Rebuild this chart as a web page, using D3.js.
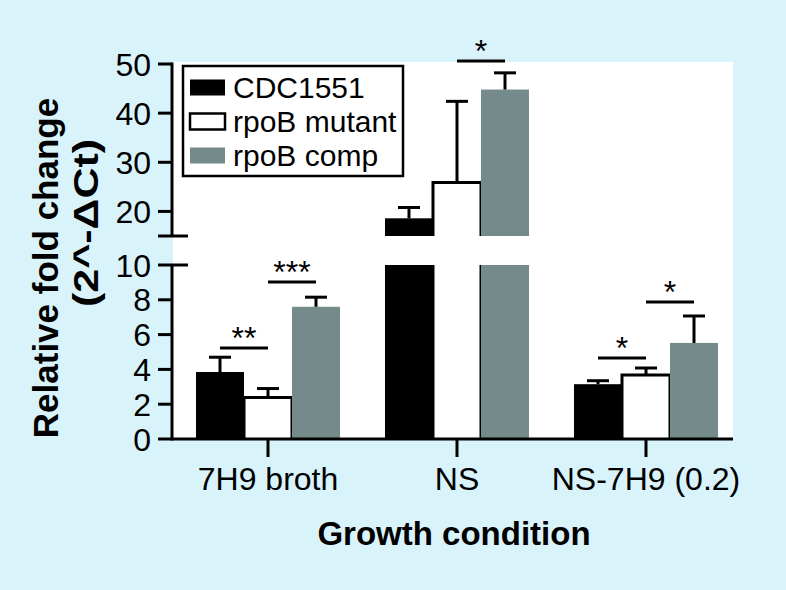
<!DOCTYPE html>
<html><head><meta charset="utf-8">
<script src="https://cdn.jsdelivr.net/npm/d3@7"></script>
<style>html,body{margin:0;padding:0;background:#d9f3fb;}svg{display:block;}</style>
</head><body>
<svg id="chart" width="786" height="590"></svg>
<script>
const categories = ["7H9 broth", "NS", "NS-7H9 (0.2)"];
const seriesNames = ["CDC1551", "rpoB mutant", "rpoB comp"];
const cdc1551 = [3.85, 18.6, 3.15];
const rpoBMutant = [2.38, 25.9, 3.68];
const rpoBComp = [7.6, 44.8, 5.52];
const cdc1551Err = [0.85, 2.2, 0.2];
const rpoBMutantErr = [0.52, 16.5, 0.4];
const rpoBCompErr = [0.55, 3.4, 1.55];
const lowTicks = [0, 2, 4, 6, 8, 10];
const highTicks = [20, 30, 40, 50];
const sigLabels = ["**", "***", "*", "*", "*"];
const sigGroup = [0, 0, 1, 2, 2];
const sigFrom = [0, 1, 1, 0, 1];
const sigTo = [1, 2, 2, 1, 2];
const sigLevel = [5.23, 9.02, 50.6, 4.66, 7.87];

const values = [cdc1551, rpoBMutant, rpoBComp];
const errs = [cdc1551Err, rpoBMutantErr, rpoBCompErr];
const colors = ["#000000", "#ffffff", "#758a8a"];

const svg = d3.select("#chart");
const font = "'Liberation Sans', Arial, Helvetica, sans-serif";

// plot panel
const panel = {x0: 173, x1: 733, y0: 62, y1: 439};
svg.append("rect").attr("x", panel.x0).attr("y", panel.y0)
  .attr("width", panel.x1 - panel.x0).attr("height", panel.y1 - panel.y0).attr("fill", "#fff");

const x = d3.scaleBand().domain(categories).range([173.5, 740.5]).paddingInner(0.238).paddingOuter(0.119);
const xs = d3.scaleBand().domain(seriesNames).range([0, x.bandwidth()]);
const yLow = d3.scaleLinear().domain([0, 10]).range([439, 265]);
const yHigh = d3.scaleLinear().domain([15, 50]).range([236, 64]);
const Y = v => v <= 12 ? yLow(v) : yHigh(v);

const g = svg.append("g");
const bw = xs.bandwidth();

seriesNames.forEach((s, si) => {
  categories.forEach((c, ci) => {
    const v = values[si][ci];
    const bx = x(c) + xs(s);
    const segs = v <= 10 ? [[yLow(v), yLow(0), true]] :
      [[yLow(10), yLow(0), false], [yHigh(v), yHigh(15), true]];
    segs.forEach(([top, bot, hasTop]) => {
      g.append("rect").attr("x", bx).attr("y", top).attr("width", bw).attr("height", bot - top)
        .attr("fill", colors[si]);
      if (si === 1) {
        const p = d3.path();
        p.moveTo(bx, bot); p.lineTo(bx, top);
        if (hasTop) p.lineTo(bx + bw, top); else p.moveTo(bx + bw, top);
        p.lineTo(bx + bw, bot);
        g.append("path").attr("d", p.toString()).attr("fill", "none")
          .attr("stroke", "#000").attr("stroke-width", 3);
      }
    });
    // error bar
    const cx = bx + bw / 2;
    const eTop = Y(v + errs[si][ci]);
    g.append("line").attr("x1", cx).attr("x2", cx).attr("y1", Y(v)).attr("y2", eTop)
      .attr("stroke", "#000").attr("stroke-width", 3);
    g.append("line").attr("x1", cx - 11).attr("x2", cx + 11).attr("y1", eTop).attr("y2", eTop)
      .attr("stroke", "#000").attr("stroke-width", 3);
  });
});

// axes
const ax = svg.append("g").attr("stroke", "#000").attr("stroke-width", 3);
ax.append("line").attr("x1", 172).attr("x2", 733).attr("y1", 439).attr("y2", 439);
ax.append("line").attr("x1", 172).attr("x2", 172).attr("y1", yLow(0) + 1.5).attr("y2", yLow(10));
ax.append("line").attr("x1", 172).attr("x2", 172).attr("y1", yHigh(15)).attr("y2", yHigh(50) - 1.5);
lowTicks.forEach(t => {
  ax.append("line").attr("x1", 158).attr("x2", t === 10 ? 188 : 172).attr("y1", yLow(t)).attr("y2", yLow(t));
});
highTicks.forEach(t => {
  ax.append("line").attr("x1", 158).attr("x2", 172).attr("y1", yHigh(t)).attr("y2", yHigh(t));
});
ax.append("line").attr("x1", 158).attr("x2", 188).attr("y1", yHigh(15)).attr("y2", yHigh(15));
categories.forEach(c => {
  const cx = x(c) + x.bandwidth() / 2;
  ax.append("line").attr("x1", cx).attr("x2", cx).attr("y1", 439).attr("y2", 457);
});

const tl = svg.append("g").attr("font-family", font).attr("font-size", 32).attr("fill", "#000");
lowTicks.forEach(t => tl.append("text").attr("x", 151).attr("y", yLow(t)).attr("dy", "0.36em")
  .attr("text-anchor", "end").text(t));
highTicks.forEach(t => tl.append("text").attr("x", 151).attr("y", yHigh(t)).attr("dy", "0.36em")
  .attr("text-anchor", "end").text(t));
categories.forEach(c => tl.append("text").attr("x", x(c) + x.bandwidth() / 2).attr("y", 490)
  .attr("text-anchor", "middle").text(c));

// axis titles
svg.append("text").attr("x", 454).attr("y", 545).attr("text-anchor", "middle")
  .attr("font-family", font).attr("font-weight", "bold").attr("font-size", 33).text("Growth condition");
svg.append("text").attr("transform", "translate(58,268) rotate(-90)").attr("text-anchor", "middle")
  .attr("font-family", font).attr("font-weight", "bold").attr("font-size", 35).text("Relative fold change");
svg.append("text").attr("transform", "translate(98,223) rotate(-90)").attr("text-anchor", "middle")
  .attr("font-family", font).attr("font-weight", "bold").attr("font-size", 35)
  .attr("textLength", 168).attr("lengthAdjust", "spacingAndGlyphs").text("(2^-ΔCt)");

// significance
sigLabels.forEach((lab, i) => {
  const c = categories[sigGroup[i]];
  const x1 = x(c) + xs(seriesNames[sigFrom[i]]) + bw / 2;
  const x2 = x(c) + xs(seriesNames[sigTo[i]]) + bw / 2;
  const yy = Y(sigLevel[i]);
  svg.append("line").attr("x1", x1).attr("x2", x2).attr("y1", yy).attr("y2", yy)
    .attr("stroke", "#000").attr("stroke-width", 3);
  svg.append("text").attr("x", (x1 + x2) / 2).attr("y", yy + 1).attr("text-anchor", "middle")
    .attr("font-family", font).attr("font-size", 32).text(lab);
});

// legend
const lg = svg.append("g");
lg.append("rect").attr("x", 183).attr("y", 66).attr("width", 220).attr("height", 110)
  .attr("fill", "#fff").attr("stroke", "#000").attr("stroke-width", 2.5);
seriesNames.forEach((s, i) => {
  const cy = 87.5 + i * 34;
  lg.append("rect").attr("x", 190).attr("y", cy - 8).attr("width", 35).attr("height", 16)
    .attr("fill", colors[i]).attr("stroke", i === 1 ? "#000" : "none").attr("stroke-width", 2.5);
  lg.append("text").attr("x", 233).attr("y", cy + 10).attr("font-family", font).attr("font-size", 30).text(s);
});
</script>
</body></html>
